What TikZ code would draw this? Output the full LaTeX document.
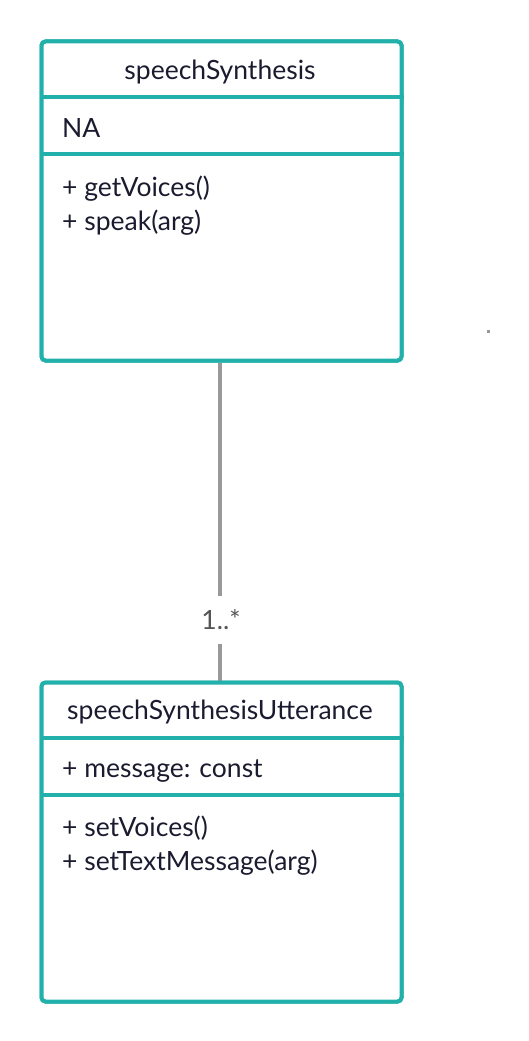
\documentclass[tikz,border=0pt]{standalone}
\usepackage{fontspec}
\setmainfont{Lato}
\definecolor{teal1}{HTML}{22B0AA}
\definecolor{txt}{HTML}{1B1B30}
\definecolor{conn}{HTML}{999999}
\definecolor{lbl}{HTML}{555555}
\tikzset{
  classbox/.style={draw=teal1, line width=4pt, rounded corners=4pt, minimum width=360pt, minimum height=319pt, inner sep=0pt, fill=white},
  divider/.style={draw=teal1, line width=4pt},
  member/.style={anchor=base west, inner sep=0pt, text=txt, font=\fontsize{26.5}{30}\selectfont},
  title/.style={anchor=base, inner sep=0pt, text=txt, font=\fontsize{26.5}{30}\selectfont},
  connector/.style={draw=conn, line width=4pt},
  mult/.style={text=lbl, font=\fontsize{26.5}{30}\selectfont, minimum height=48pt, inner sep=0pt}
}
\begin{document}
\begin{tikzpicture}[x=1pt,y=1pt]
\useasboundingbox (0,0) rectangle (529,-1041);
% connector
\node[mult] (lab) at (221,-620) {1..*};
\node[classbox, anchor=north west] (top) at (39.5,-39.5) {};
\node[classbox, anchor=north west] (bot) at (39.5,-680.5) {};
\draw[connector] (top.south -| 220,0) -- (lab.north -| 220,0);
\draw[connector] (lab.south -| 220,0) -- (bot.north -| 220,0);
% redraw boxes over connector ends
\node[classbox, anchor=north west] at (39.5,-39.5) {};
\node[classbox, anchor=north west] at (39.5,-680.5) {};
% top class
\draw[divider] ([yshift=-57.5pt]top.north west) -- ([yshift=-57.5pt]top.north east);
\draw[divider] ([yshift=-114.5pt]top.north west) -- ([yshift=-114.5pt]top.north east);
\node[title] (t1) at (220,-79) {speechSynthesis};
\node[member] (a1) at (62,-137) {NA};
\node[member] (m1) at (62,-196) {+ getVoices()};
\node[member] (m2) at (62,-230) {+ speak(arg)};
% bottom class
\draw[divider] ([yshift=-57pt]bot.north west) -- ([yshift=-57pt]bot.north east);
\draw[divider] ([yshift=-114.5pt]bot.north west) -- ([yshift=-114.5pt]bot.north east);
\node[title] (t2) at (220,-719) {speechSynthesisUtterance};
\node[member] (a2) at (62,-777) {+ message: const};
\node[member] (m3) at (62,-836) {+ setVoices()};
\node[member] (m4) at (62,-870) {+ setTextMessage(arg)};
% stray dot
\fill[conn] (486.5,-329.5) rectangle (489.5,-332.5);
\end{tikzpicture}
\end{document}
